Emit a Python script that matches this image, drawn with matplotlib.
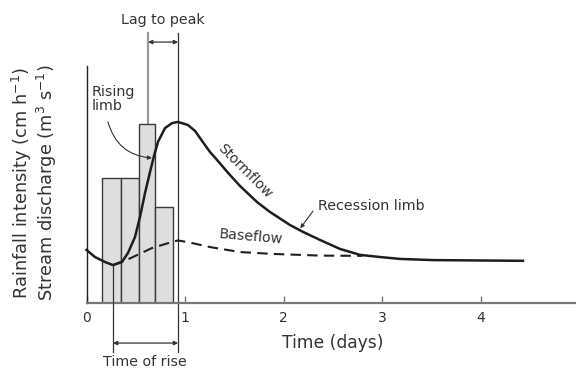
import matplotlib
matplotlib.use("Agg")
import matplotlib.pyplot as plt

# ---- data ----
rain_edges = [0.16, 0.35, 0.53, 0.70, 0.88]          # days
rain_heights = [5.27, 5.27, 7.55, 4.05]               # relative units

storm_t = [0.00, 0.086, 0.188, 0.269, 0.360, 0.421, 0.492, 0.543, 0.594,
           0.645, 0.685, 0.726, 0.797, 0.868, 0.929, 1.030, 1.102, 1.173,
           1.254, 1.335, 1.437, 1.558, 1.731, 1.863, 2.066, 2.198, 2.371,
           2.574, 2.777, 2.980, 3.183, 3.518, 4.431]
storm_q = [2.24, 1.94, 1.73, 1.60, 1.73, 2.11, 2.78, 3.63, 4.64,
           5.53, 6.20, 6.80, 7.38, 7.59, 7.64, 7.51, 7.26, 6.84,
           6.37, 5.99, 5.49, 4.94, 4.26, 3.84, 3.29, 3.00, 2.66,
           2.28, 2.03, 1.94, 1.86, 1.81, 1.78]

base_t = [0.269, 0.441, 0.665, 0.848, 0.929, 1.05, 1.254, 1.558, 1.893, 2.371, 2.80]
base_q = [1.60, 1.88, 2.32, 2.55, 2.64, 2.55, 2.36, 2.15, 2.07, 2.00, 1.99]

t_centroid = 0.625
t_peak = 0.93
t_min = 0.269

xticks = [0, 1, 2, 3, 4, 5]
xticklabels = ["0", "1", "2", "3", "4", "5"]

TXT = "#333333"

fig = plt.figure(figsize=(5.76, 3.72), dpi=100)
ax = fig.add_axes([86.5 / 576, 69 / 372, 492.5 / 576, 237 / 372])
ax.set_xlim(0, 5)
ax.set_ylim(0, 10)

# rainfall bars
lefts = rain_edges[:-1]
widths = [b - a for a, b in zip(rain_edges[:-1], rain_edges[1:])]
ax.bar(lefts, rain_heights, width=widths, align="edge", color="#dedede",
       edgecolor="#3a3a3a", linewidth=1.0, zorder=2)

# vertical reference lines
top = 11.39
bottom = -2.07
ax.plot([t_centroid, t_centroid], [rain_heights[2], top], color="#9a9a9a",
        lw=1.6, clip_on=False, zorder=1)
ax.plot([t_peak, t_peak], [bottom, top], color="#333333", lw=0.9,
        clip_on=False, zorder=1)
ax.plot([t_min, t_min], [bottom, min(storm_q)], color="#333333", lw=0.9,
        clip_on=False, zorder=3)

# hydrograph
ax.plot(storm_t, storm_q, color="#1e1e1e", lw=1.8, zorder=4, clip_on=False,
        solid_joinstyle="round")
ax.plot(base_t, base_q, color="#1e1e1e", lw=1.5, ls=(0, (5, 3)), zorder=4)

# arrows
arrow_kw = dict(arrowstyle="<|-|>", color="#333333", lw=0.9,
                shrinkA=0, shrinkB=0, mutation_scale=6)
ax.annotate("", xy=(t_centroid, 11.01), xytext=(t_peak, 11.01),
            arrowprops=arrow_kw, annotation_clip=False)
ax.annotate("", xy=(t_min, -1.69), xytext=(t_peak, -1.69),
            arrowprops=arrow_kw, annotation_clip=False)

# text annotations
fs = 10.3
ax.text(0.77, 11.94, "Lag to peak", ha="center", va="center", fontsize=fs,
        color=TXT, clip_on=False)
ax.text(0.59, -2.49, "Time of rise", ha="center", va="center", fontsize=fs,
        color=TXT, clip_on=False)
ax.text(0.056, 8.60, "Rising\nlimb", ha="left", va="center", fontsize=fs,
        color=TXT, linespacing=1.05)
ax.annotate("", xy=(0.665, 6.12), xytext=(0.218, 7.64),
            arrowprops=dict(arrowstyle="-|>", color="#333333", lw=0.8,
                            shrinkA=0, shrinkB=0, mutation_scale=6,
                            connectionstyle="arc3,rad=0.35"))
ax.text(1.61, 5.55, "Stormflow", ha="center", va="center", fontsize=10,
        color=TXT, rotation=-45, rotation_mode="anchor")
ax.text(1.67, 2.80, "Baseflow", ha="center", va="center", fontsize=fs,
        color=TXT, rotation=-5, rotation_mode="anchor")
ax.text(2.35, 4.09, "Recession limb", ha="left", va="center", fontsize=fs,
        color=TXT)
ax.annotate("", xy=(2.17, 3.15), xytext=(2.30, 3.88),
            arrowprops=dict(arrowstyle="-|>", color="#333333", lw=0.8,
                            shrinkA=0, shrinkB=0, mutation_scale=6))

# axes styling
for s in ["top", "right"]:
    ax.spines[s].set_visible(False)
ax.spines["left"].set_color("#222222")
ax.spines["left"].set_linewidth(1.0)
ax.spines["bottom"].set_color("#777777")
ax.spines["bottom"].set_linewidth(1.6)
ax.set_yticks([])
ax.set_xticks(xticks)
ax.set_xticklabels(xticklabels)
ax.tick_params(axis="x", direction="in", length=5, width=1.0, color="#777777",
               labelsize=10, labelcolor=TXT, pad=6)
ax.set_xlabel("Time (days)", fontsize=12.3, color=TXT, labelpad=6)

fig.text(22 / 576, 1 - 183 / 372, "Rainfall intensity (cm h$^{-1}$)",
         rotation=90, ha="center", va="center", fontsize=12.8, color=TXT)
fig.text(47 / 576, 1 - 183 / 372, "Stream discharge (m$^{3}$ s$^{-1}$)",
         rotation=90, ha="center", va="center", fontsize=12.8, color=TXT)

fig.savefig("out.png", dpi=100)
